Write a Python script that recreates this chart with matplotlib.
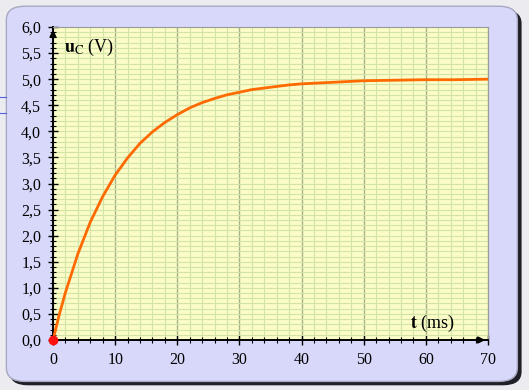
import numpy as np
import matplotlib
matplotlib.use("Agg")
import matplotlib.pyplot as plt
from matplotlib.patches import FancyBboxPatch
from matplotlib.ticker import MultipleLocator, FuncFormatter

plt.rcParams.update({
    "font.family": "Liberation Serif",
    "mathtext.fontset": "stix",
    "font.size": 11,
})

# values (t in ms, uC in V)
t_ms = [0, 1, 2, 4, 6, 8, 10, 12, 14, 16, 18, 20, 22, 24, 26, 28, 30,
        32, 34, 36, 38, 40, 45, 50, 55, 60, 65, 70]
u_c = [0.0, 0.48, 0.91, 1.65, 2.26, 2.75, 3.16, 3.49, 3.77, 3.99, 4.17,
       4.32, 4.45, 4.55, 4.63, 4.70, 4.75, 4.80, 4.83, 4.86, 4.89, 4.91,
       4.94, 4.97, 4.98, 4.99, 4.99, 5.0]
x_ticks = [0, 10, 20, 30, 40, 50, 60, 70]
y_ticks = [0.0, 0.5, 1.0, 1.5, 2.0, 2.5, 3.0, 3.5, 4.0, 4.5, 5.0, 5.5, 6.0]

fig = plt.figure(figsize=(5.29, 3.90), dpi=100)
fig.patch.set_facecolor("#ececf0")

# rounded panel with a dark shadow
shadow = FancyBboxPatch((0.018, 0.012), 0.968, 0.963,
                        boxstyle="round,pad=0,rounding_size=0.035",
                        transform=fig.transFigure, facecolor="#202028",
                        edgecolor="none", zorder=0)
panel = FancyBboxPatch((0.012, 0.022), 0.966, 0.962,
                       boxstyle="round,pad=0,rounding_size=0.035",
                       transform=fig.transFigure, facecolor="#d8d8fa",
                       edgecolor="#a8a8c0", linewidth=1.0, zorder=1)
fig.patches.extend([shadow, panel])
fig.add_artist(plt.Line2D([0, 0.012], [1 - 97 / 390] * 2, color="#5060e0", lw=0.8))
fig.add_artist(plt.Line2D([0, 0.012], [1 - 113 / 390] * 2, color="#5060e0", lw=0.8))

ax = fig.add_axes([53 / 529, 1 - 340 / 390, 435 / 529, 313 / 390])
ax.set_zorder(2)
ax.set_facecolor("#fbfcc8")
ax.set_xlim(0, 70)
ax.set_ylim(0, 6)

ax.xaxis.set_minor_locator(MultipleLocator(2))
ax.yaxis.set_minor_locator(MultipleLocator(0.1))
ax.set_xticks(x_ticks)
ax.set_yticks(y_ticks)
ax.yaxis.set_major_formatter(FuncFormatter(lambda v, p: f"{v:.1f}".replace(".", ",")))
ax.grid(which="minor", color="#d2e4a6", lw=0.8)
ax.yaxis.grid(which="major", color="#d2e4a6", lw=0.8)
ax.xaxis.grid(which="major", color="#a6b48a", lw=1.0)
ax.set_axisbelow(True)

for s in ["top", "right"]:
    ax.spines[s].set_color("#9a9a9a")
    ax.spines[s].set_linewidth(0.8)
for s in ["left", "bottom"]:
    ax.spines[s].set_color("black")
    ax.spines[s].set_linewidth(1.4)
ax.tick_params(which="major", direction="inout", length=7, width=1.0,
               labelsize=11.5, pad=5)
ax.tick_params(which="minor", direction="inout", length=4, width=0.8)
ax.tick_params(top=False, right=False, which="both")

# axis arrows
ax.annotate("", xy=(1.0, 0), xytext=(0.97, 0), xycoords="axes fraction",
            arrowprops=dict(arrowstyle="-|>", color="black", lw=1.2,
                            mutation_scale=10))
ax.annotate("", xy=(0, 1.0), xytext=(0, 0.97), xycoords="axes fraction",
            arrowprops=dict(arrowstyle="-|>", color="black", lw=1.2,
                            mutation_scale=10))

ax.plot(t_ms, u_c, color="#ff6a00", lw=2.0, zorder=3)
ax.plot([t_ms[0]], [u_c[0]], "o", color="#ff1010", ms=6, zorder=4, clip_on=False)

ax.text(1.8, 5.6, r"$\mathbf{u}_{\mathrm{C}}$ (V)", fontsize=13, va="center")
ax.text(57.5, 0.32, r"$\mathbf{t}$ (ms)", fontsize=13, va="center")

fig.savefig("out.png", dpi=100, facecolor=fig.get_facecolor())
